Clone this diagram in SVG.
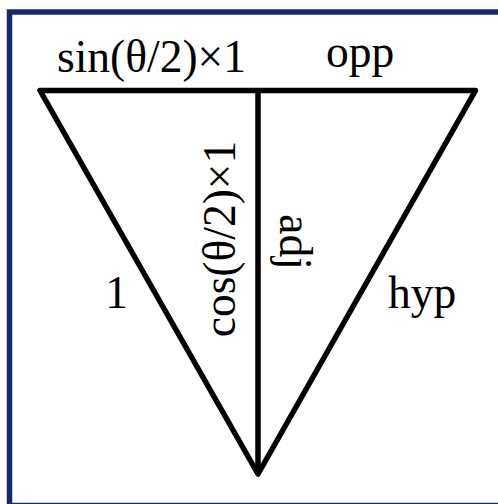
<svg xmlns="http://www.w3.org/2000/svg" width="498" height="504" viewBox="0 0 498 504">
<style>
.lbl{font-family:"Liberation Serif","Times New Roman",serif;font-size:45.5px;fill:#000}
.ln{fill:none;stroke:#000;stroke-width:5.5;stroke-linejoin:round;stroke-linecap:butt}
</style>
<rect x="0" y="0" width="498" height="504" fill="#fff"/>
<rect id="frame" x="9.5" y="12" width="500" height="493.5" fill="none" stroke="#172a6e" stroke-width="5.5"/>
<g id="connectors">
<polygon class="ln" points="40,90.5 475.5,90.5 258,474"/>
<line class="ln" x1="258" y1="90.5" x2="258" y2="474"/>
</g>
<g id="label-sin"><text class="lbl" x="57" y="72">sin(θ/2)×1</text></g>
<g id="label-opp"><text class="lbl" x="326" y="67">opp</text></g>
<g id="label-cos"><text class="lbl" transform="translate(235,239) rotate(-90)" text-anchor="middle">cos(θ/2)×1</text></g>
<g id="label-adj"><text class="lbl" transform="translate(280,242) rotate(90)" text-anchor="middle">adj</text></g>
<g id="label-1"><text class="lbl" x="116.5" y="308" text-anchor="middle">1</text></g>
<g id="label-hyp"><text class="lbl" x="388" y="308">hyp</text></g>
</svg>
